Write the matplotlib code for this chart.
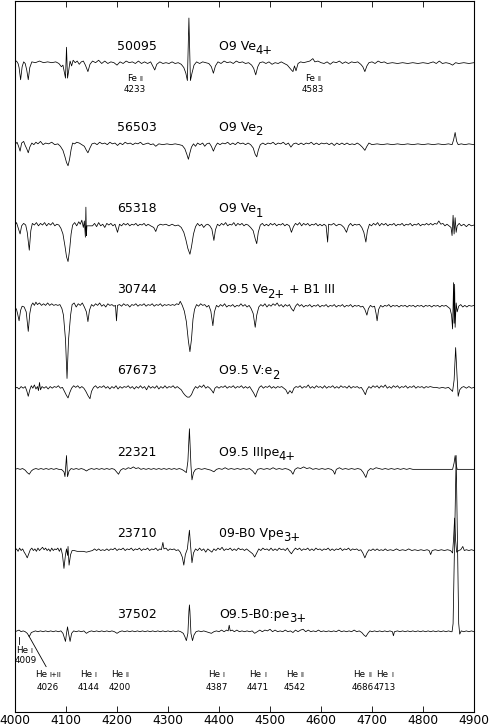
import matplotlib
matplotlib.use("Agg")
import matplotlib.pyplot as plt
import numpy as np

# ---------------- data ----------------
STAR_IDS = ["50095", "56503", "65318", "30744", "67673", "22321", "23710", "37502"]
# spectral type split into (main text, subscript, trailing text)
SPEC_MAIN = ["O9 Ve", "O9 Ve", "O9 Ve", "O9.5 Ve", "O9.5 V:e", "O9.5 IIIpe", "09-B0 Vpe", "O9.5-B0:pe"]
SPEC_SUB = ["4+", "2", "1", "2+", "2", "4+", "3+", "3+"]
SPEC_TAIL = ["", "", "", " + B1 III", "", "", "", ""]
OFFSETS = [7, 6, 5, 4, 3, 2, 1, 0]

S_50095 = [(4000,0.02),(4003,0.03),(4006,0.0),(4008,-0.05),(4011,-0.20),(4014,-0.04),(4017,0.02),(4020,0.0),
 (4023,-0.08),(4026,-0.20),(4029,-0.05),(4033,0.02),(4040,0.01),(4048,0.03),(4056,0.01),(4064,0.02),(4072,0.01),
 (4080,0.02),(4086,0.0),(4091,-0.04),(4094,-0.02),(4097,-0.12),(4099,-0.18),(4101,0.20),(4103,-0.18),(4105,-0.10),
 (4108,0.03),(4111,-0.03),(4114,0.04),(4118,0.01),(4122,0.03),(4126,-0.01),(4130,0.02),(4134,0.03),(4138,-0.02),
 (4143,-0.10),(4147,-0.01),(4152,0.03),(4158,0.01),(4164,0.04),(4170,0.0),(4176,0.03),(4182,0.0),(4188,0.02),
 (4194,0.01),(4200,-0.02),(4206,0.02),(4212,0.0),(4218,0.03),(4224,0.01),(4230,0.02),(4236,0.0),(4242,0.03),
 (4248,0.0),(4254,0.02),(4260,0.0),(4266,0.02),(4270,-0.03),(4274,-0.08),(4278,-0.01),(4284,0.02),(4290,0.0),
 (4296,0.01),(4302,0.0),(4308,0.02),(4314,0.0),(4320,0.01),(4326,-0.01),(4331,-0.05),(4335,-0.12),(4338,-0.21),
 (4341,0.56),(4344,-0.21),(4347,-0.12),(4351,-0.02),(4356,0.02),(4362,0.0),(4368,0.02),(4374,0.01),(4380,0.0),
 (4385,-0.04),(4389,-0.12),(4393,-0.03),(4398,0.02),(4404,0.0),(4410,0.03),(4416,0.01),(4422,0.02),(4428,0.0),
 (4434,0.03),(4440,0.01),(4446,0.02),(4452,0.0),(4458,0.01),(4464,-0.02),(4468,-0.06),(4472,-0.14),(4476,-0.04),
 (4480,0.01),(4486,0.02),(4492,0.0),(4498,0.02),(4504,-0.01),(4510,0.01),(4516,0.0),(4522,0.02),(4528,0.0),
 (4534,-0.02),(4538,-0.05),(4542,-0.08),(4545,-0.10),(4548,-0.03),(4551,-0.09),(4555,0.0),(4560,0.02),(4566,0.01),
 (4572,0.02),(4578,0.03),(4584,0.06),(4588,0.02),(4594,0.03),(4600,0.01),(4606,0.0),(4612,0.02),(4618,-0.01),
 (4624,0.02),(4630,0.01),(4636,0.03),(4642,0.0),(4648,0.02),(4654,0.0),(4660,0.02),(4666,0.01),(4672,0.02),
 (4678,-0.01),(4682,-0.04),(4686,-0.10),(4690,-0.03),(4694,0.01),(4700,0.02),(4706,0.0),(4712,0.03),(4718,0.01),
 (4724,0.02),(4730,0.0),(4740,0.01),(4750,0.0),(4760,0.01),(4770,0.0),(4780,0.01),(4790,0.0),(4800,0.01),
 (4810,0.0),(4820,0.02),(4826,0.0),(4832,0.03),(4838,0.0),(4845,0.01),(4852,0.0),(4858,-0.02),(4864,0.01),
 (4870,0.0),(4880,0.01),(4890,0.0),(4900,0.01)]

S_56503 = [(4000,0.0),(4004,0.03),(4007,-0.02),(4010,-0.08),(4013,0.02),(4017,0.04),(4020,-0.01),(4023,-0.05),
 (4026,-0.10),(4029,-0.03),(4033,0.02),(4037,0.0),(4041,0.03),(4045,0.01),(4050,0.04),(4055,0.0),(4060,0.02),
 (4066,0.01),(4072,0.03),(4078,0.0),(4084,0.01),(4089,-0.02),(4094,-0.07),(4098,-0.15),(4101,-0.22),(4104,-0.26),
 (4107,-0.18),(4110,-0.06),(4113,0.02),(4117,0.01),(4121,0.03),(4126,0.02),(4131,0.0),(4136,-0.02),(4140,-0.07),
 (4143,-0.10),(4147,-0.04),(4151,0.01),(4156,0.02),(4161,0.0),(4166,0.03),(4171,0.01),(4176,0.02),(4181,0.0),
 (4186,0.03),(4191,0.01),(4196,0.02),(4201,-0.01),(4206,0.02),(4211,0.0),(4216,0.03),(4221,0.01),(4226,0.02),
 (4231,0.0),(4236,0.02),(4241,0.01),(4246,0.03),(4251,0.0),(4256,0.01),(4261,0.02),(4266,0.0),(4271,0.01),
 (4276,-0.02),(4282,0.01),(4290,0.0),(4298,0.01),(4306,0.0),(4314,0.01),(4322,0.0),(4328,-0.01),(4333,-0.05),
 (4337,-0.12),(4340,-0.18),(4343,-0.10),(4346,-0.03),(4350,0.01),(4354,-0.02),(4358,0.02),(4363,0.0),(4368,0.02),
 (4372,-0.02),(4376,0.01),(4381,0.02),(4385,-0.02),(4389,-0.08),(4393,-0.02),(4397,0.02),(4402,0.0),(4407,0.02),
 (4412,0.01),(4417,0.03),(4422,0.0),(4427,0.02),(4432,0.0),(4437,0.03),(4442,0.01),(4447,0.02),(4452,0.0),
 (4457,0.02),(4462,0.0),(4467,-0.04),(4471,-0.12),(4474,-0.15),(4477,-0.07),(4481,0.0),(4486,0.02),(4491,0.0),
 (4496,0.02),(4501,0.01),(4506,0.03),(4511,0.0),(4516,0.02),(4521,0.01),(4526,0.03),(4531,0.0),(4536,0.02),
 (4541,-0.03),(4546,0.01),(4551,0.02),(4556,0.0),(4561,0.02),(4566,0.0),(4571,0.02),(4576,0.01),(4581,0.03),
 (4586,0.0),(4591,0.02),(4596,0.0),(4601,0.02),(4606,0.01),(4611,0.02),(4616,0.0),(4621,0.02),(4626,-0.01),
 (4631,0.02),(4636,0.0),(4641,0.02),(4646,0.0),(4651,0.02),(4656,0.0),(4661,0.01),(4666,0.0),(4671,0.02),
 (4676,0.0),(4681,-0.03),(4686,-0.07),(4690,-0.02),(4694,0.02),(4700,0.0),(4710,0.01),(4720,0.0),(4730,0.01),
 (4740,0.0),(4750,0.01),(4760,0.0),(4770,0.01),(4780,0.0),(4790,0.01),(4800,0.0),(4810,0.01),(4820,0.0),
 (4830,0.01),(4840,0.0),(4850,0.01),(4857,0.0),(4860,0.06),(4863,0.15),(4866,0.04),(4869,0.0),(4875,0.01),
 (4882,0.0),(4890,0.01),(4900,0.0)]

S_65318 = [(4000,0.01),(4003,0.04),(4006,-0.02),(4010,-0.10),(4013,0.0),(4017,0.03),(4021,0.01),(4024,-0.08),
 (4028,-0.30),(4031,-0.06),(4034,0.03),(4038,0.01),(4042,0.04),(4046,0.0),(4050,0.03),(4054,0.01),(4058,0.04),
 (4062,0.0),(4066,0.03),(4070,0.01),(4074,0.04),(4078,0.0),(4082,0.02),(4086,0.01),(4090,-0.03),(4094,-0.10),
 (4098,-0.25),(4101,-0.38),(4104,-0.44),(4107,-0.30),(4110,-0.10),(4113,0.01),(4117,0.04),(4121,0.0),(4125,0.05),
 (4128,0.02),(4131,0.07),(4134,-0.02),(4136,0.06),(4138,-0.14),(4139,0.23),(4140,-0.12),(4141,0.0),(4152,0.0),
 (4156,0.03),(4160,-0.01),(4164,0.04),(4168,0.0),(4172,0.02),(4176,-0.02),(4180,0.03),(4184,0.01),(4188,0.03),
 (4192,0.0),(4196,0.02),(4201,-0.08),(4205,0.02),(4209,0.0),(4213,0.03),(4217,0.01),(4221,0.03),(4225,0.0),
 (4229,0.02),(4233,0.01),(4237,0.03),(4241,0.0),(4245,0.02),(4249,0.01),(4253,0.03),(4257,0.0),(4261,0.02),
 (4266,0.0),(4272,-0.02),(4276,-0.07),(4280,0.0),(4285,0.02),(4290,0.01),(4296,0.02),(4302,0.0),(4308,0.02),
 (4314,0.0),(4320,0.01),(4326,-0.02),(4331,-0.08),(4335,-0.17),(4339,-0.28),(4343,-0.35),(4346,-0.26),
 (4350,-0.10),(4354,-0.01),(4358,0.03),(4362,0.0),(4366,0.02),(4370,-0.02),(4374,0.01),(4378,0.02),(4382,0.0),
 (4386,-0.04),(4390,-0.18),(4393,-0.05),(4397,0.02),(4401,0.0),(4405,0.03),(4409,0.01),(4413,0.04),(4417,0.0),
 (4421,0.02),(4425,0.01),(4429,0.04),(4433,0.0),(4437,0.03),(4441,0.01),(4445,0.03),(4449,0.0),(4453,0.02),
 (4457,0.01),(4462,-0.02),(4467,-0.06),(4471,-0.16),(4474,-0.22),(4477,-0.08),(4481,0.01),(4485,0.03),(4489,0.0),
 (4493,0.02),(4497,0.0),(4501,0.03),(4505,0.01),(4509,0.03),(4513,0.0),(4517,0.02),(4521,0.01),(4525,0.03),
 (4529,0.0),(4533,0.02),(4538,0.0),(4542,-0.08),(4546,-0.01),(4550,0.03),(4554,0.01),(4558,0.04),(4562,0.0),
 (4566,0.03),(4570,0.01),(4574,0.03),(4578,0.0),(4582,0.02),(4586,0.01),(4590,0.03),(4594,0.0),(4598,0.02),
 (4602,0.0),(4606,0.02),(4610,0.0),(4613,-0.20),(4615,0.02),(4620,0.01),(4625,0.03),(4630,0.0),(4635,0.02),
 (4640,0.01),(4645,-0.02),(4650,-0.08),(4654,0.0),(4658,0.03),(4662,0.0),(4666,0.02),(4670,0.01),(4675,0.02),
 (4680,-0.02),(4684,-0.08),(4688,-0.20),(4691,-0.06),(4695,0.02),(4699,0.0),(4703,0.03),(4707,0.01),(4711,0.04),
 (4715,0.0),(4719,0.03),(4723,0.01),(4727,0.03),(4731,0.0),(4735,0.02),(4739,0.01),(4743,0.03),(4747,0.0),
 (4751,0.02),(4755,0.01),(4759,0.03),(4763,0.0),(4767,0.02),(4771,0.01),(4775,0.03),(4779,0.0),(4783,0.02),
 (4787,0.01),(4791,0.03),(4795,0.0),(4799,0.02),(4803,0.01),(4807,0.03),(4811,0.01),(4815,0.03),(4819,0.01),
 (4823,0.03),(4827,0.02),(4831,0.06),(4835,0.02),(4839,0.03),(4843,0.0),(4847,0.02),(4851,0.0),(4855,-0.02),
 (4857,-0.12),(4859,0.13),(4861,-0.10),(4863,0.10),(4865,-0.08),(4867,0.0),(4871,0.03),(4875,0.0),(4880,0.02),
 (4885,-0.01),(4890,0.02),(4895,0.0),(4900,0.01)]

S_30744 = [(4000,0.0),(4003,-0.03),(4005,-0.08),(4008,-0.17),(4011,-0.04),(4014,0.01),(4018,0.0),(4022,-0.06),
 (4026,-0.30),(4029,-0.08),(4032,0.02),(4035,0.05),(4038,0.02),(4041,0.06),(4044,0.03),(4048,0.05),(4052,0.02),
 (4056,0.04),(4060,0.02),(4064,0.05),(4068,0.02),(4072,0.04),(4076,0.02),(4080,0.03),(4084,0.02),(4088,0.03),
 (4092,-0.02),(4095,-0.10),(4099,-0.40),(4102,-0.88),(4105,-0.40),(4109,-0.10),(4112,0.03),(4116,0.05),(4120,0.0),
 (4124,0.04),(4128,0.02),(4132,0.05),(4136,0.0),(4140,-0.06),(4143,-0.18),(4146,-0.04),(4150,0.03),(4154,0.01),
 (4158,0.04),(4162,0.02),(4166,0.05),(4170,0.01),(4174,0.03),(4178,0.0),(4182,0.04),(4186,0.02),(4190,0.03),
 (4194,0.01),(4197,0.02),(4199,-0.17),(4201,0.02),(4205,0.03),(4209,0.01),(4213,0.04),(4217,0.02),(4221,0.03),
 (4225,0.0),(4229,0.03),(4233,0.02),(4237,0.04),(4241,0.01),(4245,0.03),(4249,0.02),(4253,0.04),(4257,0.01),
 (4261,0.03),(4265,0.02),(4269,0.04),(4273,0.01),(4277,0.03),(4281,0.02),(4285,0.04),(4289,0.01),(4293,0.03),
 (4297,0.02),(4301,0.03),(4305,0.02),(4309,0.03),(4313,0.02),(4317,0.04),(4321,0.03),(4324,0.07),(4328,0.02),
 (4332,-0.05),(4336,-0.18),(4340,-0.42),(4343,-0.55),(4346,-0.40),(4349,-0.15),(4352,-0.03),(4356,0.03),
 (4360,0.01),(4364,0.04),(4368,0.02),(4372,0.03),(4376,0.0),(4380,0.02),(4384,-0.05),(4388,-0.23),(4391,-0.06),
 (4395,0.02),(4399,0.0),(4403,0.03),(4407,0.01),(4411,0.04),(4415,0.0),(4419,0.02),(4423,0.01),(4427,0.03),
 (4431,0.0),(4435,0.02),(4439,0.01),(4443,0.04),(4447,0.01),(4451,0.03),(4455,0.0),(4459,0.02),(4463,-0.02),
 (4467,-0.08),(4471,-0.25),(4474,-0.10),(4478,0.0),(4482,0.03),(4486,0.01),(4490,0.04),(4494,0.0),(4498,0.03),
 (4502,0.01),(4506,0.04),(4510,0.02),(4514,0.05),(4518,0.01),(4522,0.03),(4526,0.0),(4530,0.03),(4534,0.01),
 (4538,0.03),(4542,-0.02),(4546,-0.05),(4550,0.01),(4554,0.04),(4558,0.01),(4562,0.03),(4566,0.0),(4570,0.02),
 (4574,0.01),(4578,0.03),(4582,0.0),(4586,0.02),(4590,0.01),(4594,0.03),(4598,0.0),(4602,0.02),(4606,0.01),
 (4610,0.03),(4614,0.0),(4618,0.02),(4622,0.01),(4626,0.03),(4630,0.0),(4634,0.02),(4638,0.01),(4642,0.03),
 (4646,0.0),(4650,0.02),(4654,0.01),(4658,0.03),(4662,0.0),(4666,0.02),(4670,0.01),(4674,0.02),(4678,0.0),
 (4682,0.01),(4686,-0.03),(4690,-0.10),(4693,-0.02),(4697,0.02),(4701,0.0),(4705,0.01),(4708,-0.08),(4710,-0.17),
 (4713,-0.03),(4717,0.02),(4721,0.0),(4725,0.02),(4729,0.01),(4733,0.03),(4737,0.0),(4741,0.02),(4745,0.01),
 (4749,0.02),(4753,0.0),(4757,0.02),(4761,0.01),(4765,0.02),(4769,0.0),(4773,0.02),(4777,0.01),(4781,0.02),
 (4785,0.0),(4789,0.02),(4793,0.01),(4797,0.02),(4801,0.0),(4805,0.02),(4809,0.01),(4813,0.02),(4817,0.0),
 (4821,0.02),(4825,0.01),(4829,0.02),(4833,0.0),(4837,0.02),(4841,0.01),(4845,0.02),(4849,0.0),(4853,-0.02),
 (4856,-0.10),(4858,-0.27),(4860,0.30),(4861,-0.20),(4862,0.28),(4863,-0.25),(4865,0.05),(4867,-0.06),
 (4870,0.01),(4874,0.03),(4878,0.0),(4882,0.02),(4886,0.0),(4890,0.02),(4895,0.01),(4900,0.02)]

S_67673 = [(4000,0.0),(4004,0.01),(4008,-0.01),(4012,0.02),(4016,0.0),(4020,0.02),(4023,-0.03),(4026,-0.10),
 (4029,-0.02),(4032,0.03),(4035,0.0),(4038,0.04),(4041,-0.01),(4044,0.02),(4046,-0.03),(4048,0.07),(4050,-0.02),
 (4053,0.02),(4057,0.0),(4061,0.02),(4065,-0.01),(4069,0.02),(4073,0.0),(4077,0.02),(4081,0.01),(4085,0.03),
 (4089,0.0),(4093,0.01),(4097,-0.04),(4101,-0.09),(4104,-0.12),(4107,-0.06),(4111,0.0),(4115,0.03),(4119,0.01),
 (4123,0.03),(4127,0.0),(4131,0.02),(4135,0.0),(4139,-0.04),(4143,-0.09),(4147,-0.13),(4150,-0.04),(4154,0.01),
 (4158,0.03),(4162,0.0),(4166,0.02),(4170,0.01),(4174,0.03),(4178,0.0),(4182,0.02),(4186,-0.01),(4190,0.02),
 (4194,0.0),(4198,0.03),(4202,-0.01),(4206,0.02),(4210,0.0),(4214,0.02),(4218,0.01),(4222,0.03),(4226,0.0),
 (4230,0.02),(4234,-0.01),(4238,0.02),(4242,0.0),(4246,0.03),(4250,0.0),(4254,0.02),(4258,-0.02),(4262,0.03),
 (4266,0.0),(4270,0.02),(4274,0.0),(4278,0.03),(4282,-0.01),(4286,0.02),(4290,0.0),(4294,0.03),(4298,0.0),
 (4302,0.02),(4306,0.01),(4310,0.03),(4314,0.0),(4318,0.02),(4322,0.0),(4326,-0.02),(4330,-0.06),(4334,-0.09),
 (4338,-0.11),(4342,-0.11),(4346,-0.08),(4350,-0.02),(4354,0.02),(4358,0.0),(4362,0.03),(4366,0.01),(4370,0.04),
 (4374,0.0),(4378,0.02),(4382,0.0),(4386,-0.03),(4389,-0.06),(4392,0.0),(4396,0.02),(4400,0.0),(4404,0.02),
 (4408,0.01),(4412,0.03),(4416,0.0),(4420,0.02),(4424,0.01),(4428,0.03),(4432,0.0),(4436,0.02),(4440,0.01),
 (4444,0.03),(4448,0.0),(4452,0.02),(4456,0.0),(4460,0.02),(4464,-0.02),(4468,-0.06),(4472,-0.11),(4475,-0.05),
 (4479,0.01),(4483,0.03),(4487,0.0),(4491,0.02),(4495,0.01),(4499,0.03),(4503,0.0),(4507,0.02),(4511,0.0),
 (4515,0.02),(4519,0.01),(4523,0.02),(4527,0.0),(4531,-0.02),(4535,-0.07),(4539,-0.03),(4543,-0.06),(4547,0.0),
 (4551,0.02),(4555,0.01),(4559,0.03),(4563,0.0),(4567,0.02),(4571,0.01),(4575,0.04),(4579,0.0),(4583,0.02),
 (4587,0.0),(4591,0.03),(4595,0.01),(4599,0.02),(4603,0.0),(4607,0.03),(4611,0.0),(4615,0.02),(4619,0.01),
 (4623,0.03),(4627,0.0),(4631,0.02),(4635,0.0),(4639,0.03),(4643,0.01),(4647,0.02),(4651,0.0),(4655,0.03),
 (4659,0.0),(4663,0.02),(4667,0.01),(4671,0.02),(4675,0.0),(4679,0.01),(4683,-0.03),(4687,-0.08),(4690,-0.02),
 (4694,0.02),(4698,0.0),(4702,0.03),(4706,0.01),(4710,0.03),(4714,0.0),(4718,0.03),(4722,0.01),(4726,0.04),
 (4730,0.0),(4734,0.02),(4738,0.0),(4742,0.03),(4746,0.01),(4750,0.03),(4754,0.0),(4758,0.02),(4762,0.01),
 (4766,0.03),(4770,0.0),(4774,0.02),(4778,0.01),(4782,0.03),(4786,0.0),(4790,0.02),(4794,0.01),(4798,0.02),
 (4802,0.0),(4806,0.02),(4810,0.01),(4814,0.02),(4820,0.01),(4826,0.01),(4832,0.0),(4838,0.01),(4844,0.0),
 (4850,0.01),(4855,-0.02),(4858,-0.04),(4861,0.10),(4864,0.50),(4867,0.12),(4869,-0.10),(4872,-0.02),(4876,0.01),
 (4880,0.02),(4885,0.0),(4890,0.02),(4895,0.0),(4900,0.01)]

S_22321 = [(4000,0.0),(4005,0.01),(4010,0.0),(4015,0.01),(4020,-0.01),(4024,-0.04),(4028,-0.06),(4032,-0.02),
 (4036,0.0),(4041,0.01),(4046,0.0),(4051,0.01),(4056,0.0),(4061,0.01),(4066,0.0),(4071,0.01),(4076,0.0),
 (4081,0.01),(4086,0.0),(4091,0.0),(4096,-0.03),(4098,-0.09),(4101,0.17),(4103,-0.09),(4106,-0.02),(4110,0.01),
 (4115,0.0),(4120,0.01),(4125,0.0),(4130,0.01),(4135,0.0),(4140,-0.02),(4145,0.0),(4150,0.01),(4155,0.0),
 (4160,0.01),(4165,0.0),(4170,0.01),(4175,0.0),(4180,0.01),(4185,0.0),(4190,0.01),(4195,0.0),(4199,-0.03),
 (4203,-0.06),(4207,-0.01),(4212,0.01),(4217,0.0),(4222,0.02),(4227,0.01),(4232,0.03),(4237,0.01),(4242,0.02),
 (4247,0.0),(4252,0.01),(4257,0.0),(4262,0.01),(4267,0.0),(4272,0.01),(4277,0.0),(4282,0.01),(4287,0.0),
 (4292,0.01),(4297,0.0),(4302,0.01),(4307,0.0),(4312,0.01),(4317,0.0),(4322,0.01),(4327,0.0),(4332,-0.02),
 (4336,-0.04),(4339,0.10),(4342,0.50),(4345,0.05),(4347,-0.13),(4350,-0.04),(4354,0.0),(4360,0.01),(4366,0.0),
 (4372,0.01),(4378,0.0),(4384,-0.01),(4390,-0.03),(4395,0.0),(4400,0.01),(4406,0.0),(4412,0.02),(4418,0.0),
 (4424,0.01),(4430,0.0),(4436,0.01),(4442,0.0),(4448,0.01),(4454,0.0),(4460,0.01),(4466,-0.02),(4471,-0.06),
 (4476,0.0),(4482,0.01),(4488,0.0),(4494,0.01),(4500,0.0),(4506,0.02),(4512,0.0),(4518,0.01),(4524,0.0),
 (4530,0.01),(4536,0.0),(4541,-0.02),(4545,-0.06),(4549,0.0),(4554,0.02),(4560,0.01),(4566,0.03),(4572,0.01),
 (4578,0.02),(4584,0.0),(4590,0.01),(4596,0.0),(4602,0.01),(4608,0.0),(4614,0.01),(4620,0.0),(4624,-0.02),
 (4627,-0.06),(4630,0.0),(4636,0.02),(4642,0.0),(4648,0.01),(4654,0.0),(4660,0.01),(4666,0.0),(4672,0.01),
 (4678,0.0),(4683,-0.04),(4688,-0.10),(4692,-0.02),(4697,0.01),(4702,0.0),(4708,0.02),(4714,0.01),(4720,0.0),
 (4726,0.01),(4732,0.0),(4738,0.01),(4744,0.0),(4750,0.01),(4756,0.0),(4762,0.01),(4768,0.0),(4774,0.01),
 (4780,0.0),(4858,0.0),(4861,0.08),(4863,0.17),(4865,0.06),(4867,0.0),(4900,0.0)]

S_23710 = [(4000,0.0),(4003,0.02),(4006,-0.01),(4009,0.03),(4012,0.0),(4015,0.02),(4018,-0.02),(4021,-0.05),
 (4024,-0.09),(4027,-0.04),(4030,0.01),(4033,0.03),(4036,0.0),(4039,0.02),(4042,-0.01),(4045,0.03),(4048,0.0),
 (4051,0.02),(4054,0.04),(4057,0.01),(4060,0.03),(4063,0.0),(4066,0.02),(4069,-0.01),(4072,0.03),(4075,0.0),
 (4078,0.02),(4081,0.01),(4084,0.03),(4087,-0.01),(4090,0.03),(4093,-0.05),(4096,-0.22),(4099,-0.05),
 (4101,0.02),(4103,-0.06),(4104,0.05),(4106,-0.18),(4109,-0.05),(4112,0.0),(4116,0.0),(4122,-0.01),(4128,-0.01),
 (4134,-0.01),(4140,-0.02),(4146,-0.01),(4152,0.0),(4156,0.02),(4160,0.0),(4164,0.02),(4168,0.0),(4172,0.01),
 (4176,0.0),(4180,0.02),(4184,0.0),(4188,0.02),(4192,0.01),(4196,0.03),(4200,0.0),(4204,0.02),(4208,0.01),
 (4212,0.03),(4216,0.0),(4220,0.02),(4224,0.01),(4228,0.03),(4232,0.0),(4236,0.02),(4240,0.01),(4244,0.03),
 (4248,0.0),(4252,0.02),(4256,0.01),(4260,0.03),(4264,0.0),(4268,0.02),(4272,0.01),(4276,0.03),(4280,0.0),
 (4284,0.02),(4287,0.01),(4290,0.10),(4292,0.02),(4296,0.03),(4300,0.0),(4304,0.02),(4308,0.01),(4312,0.02),
 (4316,0.0),(4320,0.01),(4324,-0.02),(4328,-0.08),(4331,-0.18),(4334,-0.05),(4338,0.02),(4340,0.14),(4342,0.25),
 (4344,0.08),(4347,-0.15),(4350,-0.03),(4354,0.02),(4358,0.0),(4362,0.03),(4366,0.0),(4370,0.02),(4374,-0.02),
 (4378,0.02),(4382,0.0),(4386,-0.02),(4390,0.02),(4394,0.0),(4398,0.03),(4402,0.01),(4406,0.04),(4410,0.0),
 (4414,0.02),(4418,0.01),(4422,0.03),(4426,0.0),(4430,0.02),(4434,0.0),(4438,0.03),(4442,0.01),(4446,0.02),
 (4450,0.0),(4454,0.02),(4458,0.0),(4462,-0.02),(4466,-0.04),(4470,-0.08),(4474,-0.03),(4478,0.02),(4482,0.0),
 (4486,0.03),(4490,0.01),(4494,0.02),(4498,0.0),(4502,0.03),(4506,0.0),(4510,0.02),(4514,0.0),(4518,0.03),
 (4522,0.01),(4526,0.02),(4530,0.0),(4534,0.03),(4538,-0.01),(4542,-0.04),(4546,0.0),(4550,0.03),(4554,0.01),
 (4558,0.03),(4562,0.0),(4566,0.02),(4570,0.01),(4574,0.03),(4578,0.0),(4582,0.02),(4586,0.0),(4590,0.03),
 (4594,0.01),(4598,0.02),(4602,0.0),(4606,0.02),(4610,0.01),(4614,0.03),(4618,0.0),(4622,0.02),(4626,0.0),
 (4630,0.02),(4634,0.01),(4638,0.03),(4642,0.0),(4646,0.02),(4650,0.01),(4654,0.03),(4658,0.0),(4662,0.02),
 (4666,0.01),(4670,0.02),(4674,0.0),(4678,0.01),(4682,-0.03),(4686,-0.09),(4690,-0.03),(4694,0.01),(4698,0.0),
 (4702,0.02),(4706,0.0),(4710,0.02),(4714,0.0),(4718,0.01),(4722,0.0),(4726,0.02),(4730,0.0),(4736,0.01),
 (4742,0.0),(4748,0.02),(4754,0.0),(4760,0.01),(4766,0.0),(4772,0.02),(4778,0.0),(4784,0.01),(4790,0.0),
 (4796,0.01),(4802,0.0),(4808,0.01),(4812,0.0),(4815,-0.05),(4818,0.0),(4824,0.01),(4830,0.0),(4836,0.01),
 (4842,0.0),(4848,0.01),(4854,0.0),(4858,-0.03),(4860,0.15),(4862,0.40),(4864,0.12),(4866,-0.02),(4870,0.0),
 (4874,0.01),(4878,0.05),(4881,0.0),(4885,0.01),(4890,0.0),(4895,0.01),(4900,0.0)]

S_37502 = [(4000,0.0),(4004,0.01),(4008,0.02),(4012,0.0),(4016,0.01),(4020,0.0),(4024,-0.02),(4028,-0.06),
 (4032,-0.01),(4036,0.0),(4040,0.01),(4045,0.0),(4050,0.01),(4055,0.0),(4060,0.01),(4065,0.0),(4070,0.01),
 (4075,0.0),(4080,0.01),(4085,0.0),(4090,0.01),(4094,-0.02),(4099,-0.12),(4101,-0.02),(4103,0.06),(4105,-0.02),
 (4108,-0.12),(4111,-0.02),(4115,0.01),(4120,0.0),(4125,0.01),(4130,0.0),(4135,0.01),(4140,-0.02),(4145,0.0),
 (4150,0.01),(4155,0.0),(4160,0.01),(4165,0.0),(4170,0.01),(4175,0.0),(4180,0.01),(4185,0.0),(4190,0.01),
 (4195,0.0),(4200,-0.02),(4205,0.0),(4210,0.01),(4215,0.0),(4220,0.01),(4225,0.0),(4230,0.01),(4235,0.0),
 (4240,0.01),(4245,0.0),(4250,0.01),(4255,0.0),(4260,0.01),(4265,0.0),(4270,0.01),(4275,0.0),(4280,0.01),
 (4285,0.0),(4290,0.01),(4295,0.0),(4300,0.01),(4305,0.0),(4310,0.01),(4315,0.0),(4320,0.01),(4325,0.0),
 (4330,-0.02),(4333,-0.06),(4336,-0.11),(4339,-0.02),(4341,0.25),(4342,0.33),(4343,0.25),(4345,-0.02),
 (4348,-0.11),(4351,-0.04),(4355,0.0),(4360,0.01),(4365,0.0),(4370,0.01),(4375,0.0),(4380,-0.01),(4385,-0.02),
 (4390,0.0),(4395,0.01),(4400,0.0),(4405,0.02),(4410,0.0),(4415,0.02),(4418,0.01),(4420,0.08),(4422,0.01),
 (4426,0.02),(4430,0.0),(4435,0.02),(4440,0.0),(4445,0.01),(4450,0.0),(4455,0.01),(4460,0.0),(4465,0.01),
 (4470,-0.02),(4475,0.0),(4480,0.02),(4485,0.0),(4490,0.02),(4495,0.01),(4500,0.03),(4505,0.0),(4510,0.02),
 (4515,0.0),(4520,0.01),(4525,0.0),(4530,0.02),(4535,0.0),(4540,0.01),(4545,-0.01),(4550,0.02),(4555,0.0),
 (4560,0.02),(4565,0.03),(4570,0.0),(4575,0.02),(4580,0.0),(4585,0.01),(4590,0.0),(4595,0.02),(4600,0.0),
 (4605,0.01),(4610,0.0),(4615,0.01),(4620,0.0),(4625,0.01),(4630,0.0),(4635,0.02),(4640,0.0),(4645,0.01),
 (4650,0.0),(4655,0.01),(4660,0.0),(4665,0.02),(4670,0.0),(4675,0.01),(4680,-0.01),(4684,-0.04),(4688,-0.06),
 (4692,-0.02),(4696,0.01),(4700,0.0),(4705,0.01),(4710,0.0),(4715,0.01),(4720,0.0),(4725,0.01),(4730,0.0),
 (4735,0.01),(4740,0.0),(4742,-0.05),(4744,0.0),(4750,0.01),(4755,0.0),(4760,0.01),(4765,0.0),(4770,0.01),
 (4775,0.0),(4780,0.01),(4785,0.0),(4790,0.01),(4795,0.0),(4800,0.01),(4805,0.0),(4810,0.01),(4815,0.0),
 (4820,0.01),(4825,0.0),(4830,0.01),(4835,0.0),(4840,0.01),(4845,0.0),(4850,0.01),(4855,0.0),(4857,0.0),
 (4859,0.10),(4865,2.17),(4870,0.10),(4872,-0.03),(4875,0.01),(4880,0.0),(4885,0.01),(4890,0.0),(4895,0.01),
 (4900,0.0)]

SPECTRA = [S_50095, S_56503, S_65318, S_30744, S_67673, S_22321, S_23710, S_37502]

# Line identifications: (element, ionisation, wavelength label, x position)
TOP_LINES = [("Fe", "II", "4233", 4235), ("Fe", "II", "4583", 4584)]
BOTTOM_LINES = [("He", "I+II", "4026", 4065), ("He", "I", "4144", 4144), ("He", "II", "4200", 4206),
                ("He", "I", "4387", 4395), ("He", "I", "4471", 4476), ("He", "II", "4542", 4549),
                ("He", "II", "4686", 4682), ("He", "I", "4713", 4725)]

XTICKS = [4000, 4100, 4200, 4300, 4400, 4500, 4600, 4700, 4800, 4900]

# ---------------- plot ----------------
fig = plt.figure(figsize=(4.9, 7.27), dpi=100)
ax = fig.add_axes([15 / 490, 15.5 / 727, 459 / 490, 711 / 727])

for spec, off in zip(SPECTRA, OFFSETS):
    w = np.array([p[0] for p in spec], dtype=float)
    f = np.array([p[1] for p in spec], dtype=float)
    ax.plot(w, f + off, color="black", lw=0.55)

ax.set_xlim(4000, 4900)
ax.set_ylim(-0.983, 7.776)

LBL_FS = 9
SUB_FS = 8.3
fig.canvas.draw()
renderer = fig.canvas.get_renderer()

for sid, m, sub, tail, off in zip(STAR_IDS, SPEC_MAIN, SPEC_SUB, SPEC_TAIL, OFFSETS):
    ax.text(4200, off + 0.17, sid, fontsize=LBL_FS, va="baseline", ha="left")
    t = ax.text(4400, off + 0.17, m, fontsize=LBL_FS, va="baseline", ha="left")
    bb = t.get_window_extent(renderer)
    x_disp, y_disp = ax.transData.transform((4400, off + 0.17))
    ts = ax.annotate(sub, (bb.x1 - 0.5, y_disp - 4.5), xycoords="figure pixels",
                     fontsize=SUB_FS, va="baseline", ha="left")
    if tail:
        bb2 = ts.get_window_extent(renderer)
        ax.annotate(tail, (bb2.x1, y_disp), xycoords="figure pixels",
                    fontsize=LBL_FS, va="baseline", ha="left")

EL_FS = 6.3
NUM_FS = 5.0


def line_label(x, y_el, y_num, el, ion, num, align="center"):
    t = ax.annotate(el, (x, y_el), xytext=(0, 0), textcoords="offset points",
                    fontsize=EL_FS, ha="left", va="center")
    ti = ax.annotate(ion, (x, y_el), xytext=(0, -0.4), textcoords="offset points",
                     fontsize=NUM_FS, ha="left", va="center")
    w_el = t.get_window_extent(renderer).width * 72 / fig.dpi
    w_ion = ti.get_window_extent(renderer).width * 72 / fig.dpi
    gap = 1.8
    total = w_el + gap + w_ion
    start = -total / 2 if align == "center" else 0.5
    t.xyann = (start, 0)
    ti.xyann = (start + w_el + gap, -0.4)
    ax.text(x, y_num, num, fontsize=EL_FS, ha=("center" if align == "center" else "left"), va="center")


for el, ion, num, x in TOP_LINES:
    line_label(x, 6.818, 6.683, el, ion, num)

for el, ion, num, x in BOTTOM_LINES:
    line_label(x, -0.528, -0.688, el, ion, num)

# He I 4009, left aligned with its tick mark; He I+II 4026 with a leader line
line_label(4000, -0.233, -0.356, "He", "I", "4009", align="left")
ax.plot([4008, 4008], [-0.06, -0.15], color="black", lw=0.6)
ax.plot([4027, 4061], [-0.05, -0.43], color="black", lw=0.6)

ax.set_xticks(XTICKS)
ax.set_xticklabels([str(t) for t in XTICKS])
ax.set_yticks([])
ax.tick_params(axis="x", direction="in", top=True, length=4, width=0.6, labelsize=8.8, pad=1.5)
for s in ax.spines.values():
    s.set_linewidth(0.8)

fig.savefig("out.png", dpi=100)
